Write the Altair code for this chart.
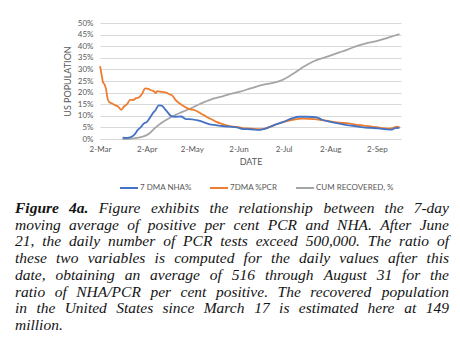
import altair as alt
import pandas as pd

# ---------------- data ----------------
series_names = ["7 DMA NHA%", "7DMA %PCR", "CUM RECOVERED, %"]
series_colors = ["#4472C4", "#ED7D31", "#A5A5A5"]

nha_dates = ["2020-03-17", "2020-03-20", "2020-03-23", "2020-03-25", "2020-03-27", "2020-03-29",
             "2020-03-31", "2020-04-02", "2020-04-04", "2020-04-06", "2020-04-08", "2020-04-10",
             "2020-04-12", "2020-04-14", "2020-04-16", "2020-04-18", "2020-04-21", "2020-04-25",
             "2020-04-28", "2020-05-02", "2020-05-06", "2020-05-10", "2020-05-14", "2020-05-18",
             "2020-05-22", "2020-05-27", "2020-06-01", "2020-06-05", "2020-06-10", "2020-06-16",
             "2020-06-20", "2020-06-25", "2020-07-02", "2020-07-08", "2020-07-12", "2020-07-18",
             "2020-07-24", "2020-07-28", "2020-08-02", "2020-08-08", "2020-08-13", "2020-08-18",
             "2020-08-24", "2020-08-29", "2020-09-03", "2020-09-08", "2020-09-12", "2020-09-14",
             "2020-09-17"]
nha_vals = [0.6, 0.5, 1.0, 2.0, 3.8, 5.0,
            6.6, 7.3, 9.0, 11.0, 12.5, 14.5,
            14.4, 13.0, 11.5, 10.0, 9.6, 9.7,
            8.6, 8.5, 8.0, 7.2, 6.3, 6.0,
            5.6, 5.3, 5.0, 4.3, 4.2, 3.9,
            4.5, 5.8, 7.4, 9.0, 9.6, 9.6,
            9.3, 8.2, 7.4, 6.6, 6.0, 5.6,
            5.0, 4.8, 4.6, 4.2, 4.0, 4.7,
            4.8]

pcr_dates = ["2020-03-02", "2020-03-03", "2020-03-04", "2020-03-05", "2020-03-06", "2020-03-07",
             "2020-03-08", "2020-03-10", "2020-03-12", "2020-03-14", "2020-03-16", "2020-03-18",
             "2020-03-20", "2020-03-22", "2020-03-24", "2020-03-26", "2020-03-28", "2020-03-30",
             "2020-04-01", "2020-04-03", "2020-04-05", "2020-04-07", "2020-04-08", "2020-04-09",
             "2020-04-12", "2020-04-15", "2020-04-17", "2020-04-19", "2020-04-21", "2020-04-24",
             "2020-04-27", "2020-04-30", "2020-05-04", "2020-05-08", "2020-05-12", "2020-05-15",
             "2020-05-18", "2020-05-22", "2020-05-27", "2020-06-01", "2020-06-05", "2020-06-10",
             "2020-06-16", "2020-06-20", "2020-06-25", "2020-07-02", "2020-07-08", "2020-07-15",
             "2020-07-22", "2020-07-28", "2020-08-02", "2020-08-08", "2020-08-13", "2020-08-18",
             "2020-08-24", "2020-08-29", "2020-09-03", "2020-09-07", "2020-09-10", "2020-09-13",
             "2020-09-15", "2020-09-17"]
pcr_vals = [31.4, 28.0, 24.5, 23.5, 21.5, 17.5,
            16.0, 15.3, 14.6, 14.0, 12.6, 14.0,
            15.0, 16.9, 16.8, 17.6, 18.0, 19.5,
            21.8, 21.6, 21.0, 20.5, 19.8, 20.6,
            20.3, 20.0, 19.3, 18.8, 17.0, 15.3,
            14.0, 13.0, 12.4, 11.0, 9.5, 8.5,
            7.5, 6.5, 5.6, 5.2, 4.7, 4.5,
            4.2, 4.6, 5.8, 7.4, 8.3, 8.8,
            8.6, 8.1, 7.6, 7.0, 6.8, 6.3,
            5.8, 5.4, 5.0, 4.6, 4.5, 4.8,
            5.3, 5.1]

rec_dates = ["2020-03-17", "2020-03-24", "2020-03-31", "2020-04-04", "2020-04-08", "2020-04-12",
             "2020-04-16", "2020-04-20", "2020-04-24", "2020-04-28", "2020-05-03", "2020-05-07",
             "2020-05-11", "2020-05-15", "2020-05-19", "2020-05-23", "2020-05-27", "2020-06-03",
             "2020-06-10", "2020-06-18", "2020-06-25", "2020-07-01", "2020-07-08", "2020-07-15",
             "2020-07-22", "2020-08-01", "2020-08-08", "2020-08-13", "2020-08-18", "2020-08-24",
             "2020-09-04", "2020-09-10", "2020-09-17"]
rec_vals = [0.0, 0.3, 1.1, 2.5, 5.0, 7.0,
            8.6, 10.0, 11.2, 12.3, 13.7, 15.0,
            16.1, 17.1, 17.8, 18.5, 19.3, 20.4,
            21.8, 23.3, 24.2, 25.4, 28.0, 31.0,
            33.5, 35.7, 37.3, 38.4, 39.7, 40.9,
            42.6, 43.8, 45.2]

x_tick_dates = [(2020, 3, 2), (2020, 4, 2), (2020, 5, 2), (2020, 6, 2),
                (2020, 7, 2), (2020, 8, 2), (2020, 9, 2)]
x_domain = [(2020, 3, 2), (2020, 9, 18)]
y_ticks = [0, 5, 10, 15, 20, 25, 30, 35, 40, 45, 50]

caption_lines = [
    "Figure 4a. Figure exhibits the relationship between the 7-day",
    "moving average of positive per cent PCR and NHA. After June",
    "21, the daily number of PCR tests exceed 500,000. The ratio of",
    "these two variables is computed for the daily values after this",
    "date, obtaining an average of 516 through August 31 for the",
    "ratio of NHA/PCR per cent positive.  The recovered population",
    "in the United States since March 17 is estimated here at 149",
    "million.",
]
caption_bold_words = 2  # "Figure 4a." in bold italic

# ---------------- layout constants ----------------
PLOT_W, PLOT_H = 301, 116
PAD_L, PAD_T = 100, 23
AXIS_FONT = "Lato"
AXIS_COLOR = "#595959"
GRID_COLOR = "#D9D9D9"

CAP_FONT = "Liberation Serif"
CAP_SIZE = 15.5
CAP_LEFT, CAP_RIGHT = 15, 449
CAP_BASE0, CAP_STEP = 213, 16.7

# ---------------- series table ----------------
frames = []
for name, d, v in [(series_names[2], rec_dates, rec_vals),
                   (series_names[1], pcr_dates, pcr_vals),
                   (series_names[0], nha_dates, nha_vals)]:
    frames.append(pd.DataFrame({"date": d, "value": v, "series": name}))
df = pd.concat(frames, ignore_index=True)
order_map = {series_names[2]: 0, series_names[1]: 1, series_names[0]: 2}
df["ord"] = df["series"].map(order_map)


def dt(t):
    return alt.DateTime(year=t[0], month=t[1], date=t[2], utc=True)


lines = alt.Chart(df).mark_line(strokeWidth=1.8, interpolate="monotone").encode(
    x=alt.X("date:T",
            scale=alt.Scale(type="utc", domain=[dt(x_domain[0]), dt(x_domain[1])]),
            axis=alt.Axis(values=[dt(t) for t in x_tick_dates],
                          labelExpr="utcFormat(datum.value, '%-d-%b')",
                          title="DATE", grid=False, ticks=False,
                          domain=True, domainColor=GRID_COLOR, domainWidth=1,
                          labelFont=AXIS_FONT, labelFontSize=8, labelColor=AXIS_COLOR,
                          labelPadding=6, labelFlush=False,
                          titleFont=AXIS_FONT, titleFontSize=9, titleFontWeight="normal",
                          titleColor=AXIS_COLOR, titlePadding=4)),
    y=alt.Y("value:Q",
            scale=alt.Scale(domain=[0, 50], nice=False),
            axis=alt.Axis(values=y_ticks, labelExpr="datum.value + '%'",
                          title="US POPULATION", grid=True, gridColor=GRID_COLOR,
                          ticks=False, domain=False,
                          labelFont=AXIS_FONT, labelFontSize=8, labelColor=AXIS_COLOR,
                          labelPadding=7,
                          titleFont=AXIS_FONT, titleFontSize=9, titleFontWeight="normal",
                          titleColor=AXIS_COLOR, titlePadding=5)),
    color=alt.Color("series:N",
                    scale=alt.Scale(domain=series_names, range=series_colors),
                    legend=alt.Legend(orient="none", legendX=19, legendY=155,
                                      direction="horizontal", columns=3, title=None,
                                      symbolType="stroke", symbolStrokeWidth=2,
                                      symbolSize=324, labelFont=AXIS_FONT,
                                      labelFontSize=8, labelColor=AXIS_COLOR,
                                      labelOffset=1, columnPadding=14)),
    order=alt.Order("ord:Q"),
    detail="series:N",
)

# ---------------- justified caption ----------------
W_IT = {
    'a': 500, 'b': 500, 'c': 444, 'd': 500, 'e': 444, 'f': 278, 'g': 500, 'h': 500,
    'i': 278, 'j': 278, 'k': 444, 'l': 278, 'm': 722, 'n': 500, 'o': 500, 'p': 500,
    'q': 500, 'r': 389, 's': 389, 't': 278, 'u': 500, 'v': 444, 'w': 667, 'x': 444,
    'y': 444, 'z': 389,
    'A': 611, 'B': 611, 'C': 667, 'D': 722, 'E': 611, 'F': 611, 'G': 722, 'H': 722,
    'I': 333, 'J': 444, 'K': 667, 'L': 556, 'M': 833, 'N': 667, 'O': 722, 'P': 611,
    'R': 611, 'S': 500, 'T': 556, 'U': 722, 'V': 611, 'W': 833,
    '.': 250, ',': 250, '-': 333, '/': 278, ' ': 250,
}
W_BI = dict(W_IT)
W_BI.update({'F': 667, 'u': 556})


def text_w(s, table):
    return sum(table.get(c, 500) for c in s) * CAP_SIZE / 1000.0


rows = []
n_lines = len(caption_lines)
for li, line in enumerate(caption_lines):
    words = line.split()
    kinds = []
    widths = []
    for wi, w in enumerate(words):
        bold = (li == 0 and wi < caption_bold_words)
        kinds.append("bold" if bold else "left")
        widths.append(text_w(w, W_BI if bold else W_IT))
    base = CAP_BASE0 + CAP_STEP * li
    if li < n_lines - 1 and len(words) > 1:
        gap = (CAP_RIGHT - CAP_LEFT - sum(widths)) / (len(words) - 1)
    else:
        gap = text_w(" ", W_IT)
    x = CAP_LEFT
    for wi, w in enumerate(words):
        kind = kinds[wi]
        px = x
        if li < n_lines - 1 and wi == len(words) - 1 and len(words) > 1:
            kind = "right"
            px = CAP_RIGHT
        rows.append({"w": w, "px": px - PAD_L, "py": base - PAD_T, "kind": kind})
        x += widths[wi] + gap

cap_df = pd.DataFrame(rows)


def cap_layer(kind, weight, align):
    return alt.Chart(cap_df).transform_filter(
        alt.datum.kind == kind
    ).mark_text(font=CAP_FONT, fontSize=CAP_SIZE, fontStyle="italic", fontWeight=weight,
                align=align, baseline="alphabetic", color="#141414").encode(
        x=alt.X("px:Q", scale=None, axis=None),
        y=alt.Y("py:Q", scale=None, axis=None),
        text="w:N",
    )


caption = cap_layer("bold", "bold", "left") + cap_layer("left", "normal", "left") + \
    cap_layer("right", "normal", "right")

chart = alt.layer(lines, caption).resolve_scale(
    x="independent", y="independent"
).properties(
    width=PLOT_W, height=PLOT_H,
    autosize=alt.AutoSizeParams(type="none"),
    padding={"left": PAD_L, "top": PAD_T, "right": 460 - PAD_L - PLOT_W,
             "bottom": 340 - PAD_T - PLOT_H},
    background="white",
).configure_view(stroke=None)

chart.save("out.html", embed_options={"renderer": "svg", "actions": False})
